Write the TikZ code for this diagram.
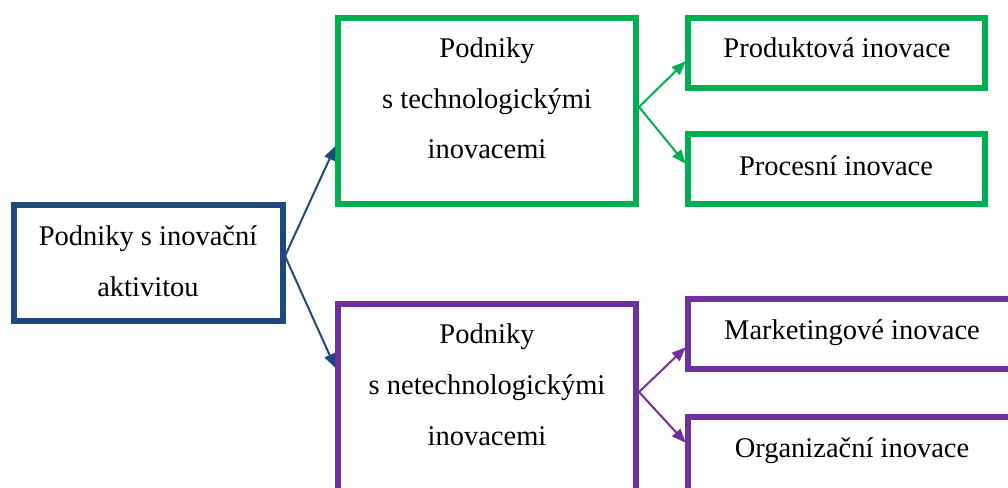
\documentclass[tikz,border=0pt]{standalone}
\usepackage{fontspec}
\setmainfont{Liberation Serif}
\usetikzlibrary{arrows.meta,calc}
\definecolor{cblue}{HTML}{1F497D}
\definecolor{cgreen}{HTML}{00B050}
\definecolor{cpurple}{HTML}{7030A0}
\tikzset{
  x=1pt, y=-1pt,
  boxframe/.style={draw=#1, line width=6pt, inner sep=0pt, outer sep=0pt, rectangle},
  lbl/.style={anchor=base, inner sep=0pt, font=\fontsize{28.5}{34}\selectfont},
  conn/.style={draw=#1, line width=2pt, -{Triangle[length=14pt,width=11pt]}, shorten >=-1pt},
}
\begin{document}
\begin{tikzpicture}
\useasboundingbox (0,0) rectangle (1008,487);
\clip (0,0) rectangle (1008,487);
% boxes (sizes measured on the stroke centre lines)
\node[boxframe=cblue, minimum width=269pt, minimum height=116pt] (blue) at (148.5,263) {};
\node[boxframe=cgreen, minimum width=298pt, minimum height=186pt] (gbig) at (487,111) {};
\node[boxframe=cgreen, minimum width=297pt, minimum height=70pt] (gprod) at (836.5,53) {};
\node[boxframe=cgreen, minimum width=297pt, minimum height=70pt] (gproc) at (836.5,169) {};
\node[boxframe=cpurple, minimum width=298pt, minimum height=236pt] (pbig) at (487,422) {};
\node[boxframe=cpurple, minimum width=352pt, minimum height=70pt] (pmark) at (864,334) {};
\node[boxframe=cpurple, minimum width=352pt, minimum height=123pt] (porg) at (864,478.5) {};
% connector end points on the boxes
\coordinate (bE) at ($(blue.east)+(2,-7)$);
\coordinate (tA) at ($(gbig.west)+(-3,36)$);
\coordinate (tB) at ($(pbig.west)+(-3,-55)$);
\coordinate (gE) at ($(gbig.east)+(3,-4)$);
\coordinate (g1) at ($(gprod.west)+(-3,9)$);
\coordinate (g2) at ($(gproc.west)+(-3,-6)$);
\coordinate (pE) at ($(pbig.east)+(3,-30)$);
\coordinate (p1) at ($(pmark.west)+(-3,14)$);
\coordinate (p2) at ($(porg.west)+(-3,-36.5)$);
% texts
\node[lbl] (t1) at (148,245) {Podniky s inovační};
\node[lbl] (t2) at (148,296) {aktivitou};
\node[lbl] (g1a) at (487,58) {Podniky};
\node[lbl] (g1b) at (487,108) {s technologickými};
\node[lbl] (g1c) at (487,158) {inovacemi};
\node[lbl] (p1a) at (487,343) {Podniky};
\node[lbl] (p1b) at (487,394) {s netechnologickými};
\node[lbl] (p1c) at (487,445) {inovacemi};
\node[lbl] (gs1) at (837,58) {Produktová inovace};
\node[lbl] (gs2) at (836,175) {Procesní inovace};
\node[lbl] (ps1) at (852,339) {Marketingové inovace};
\node[lbl] (ps2) at (852,457) {Organizační inovace};
% connectors
\draw[conn=cblue] (bE) -- (tA);
\draw[conn=cblue] (bE) -- (tB);
\draw[conn=cgreen] (gE) -- (g1);
\draw[conn=cgreen] (gE) -- (g2);
\draw[conn=cpurple] (pE) -- (p1);
\draw[conn=cpurple] (pE) -- (p2);
\end{tikzpicture}
\end{document}
